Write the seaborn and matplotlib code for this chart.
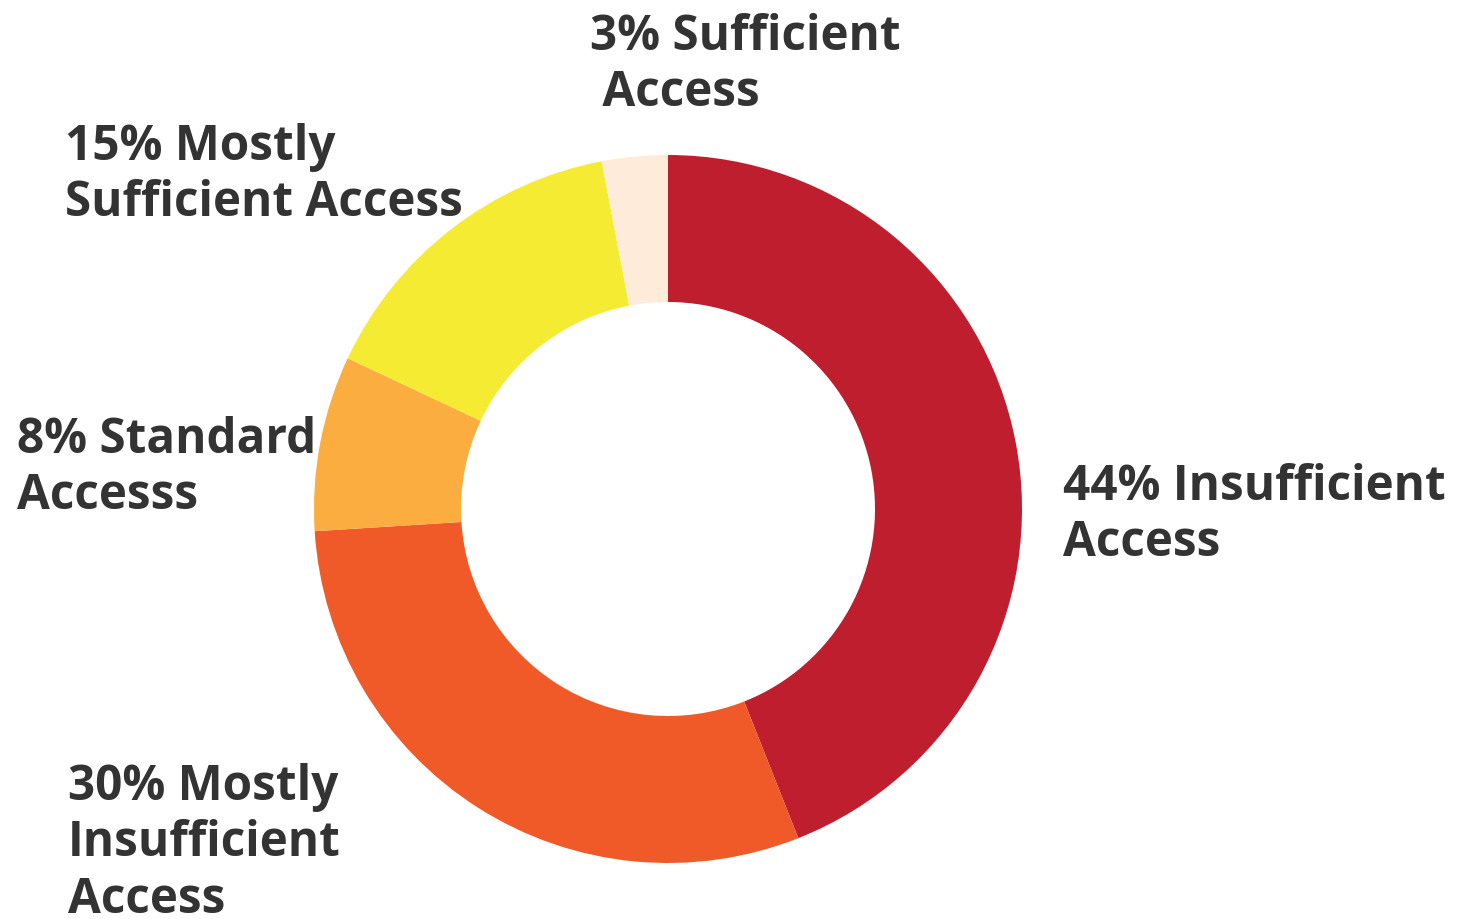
import matplotlib
matplotlib.use("Agg")
import matplotlib.pyplot as plt
import seaborn as sns

# data
labels = ["44% Insufficient\nAccess",
          "30% Mostly\nInsufficient\nAccess",
          "8% Standard\nAccesss",
          "15% Mostly\nSufficient Access",
          "3% Sufficient\n Access"]
shares = [44, 30, 8, 15, 3]
colors = ["#BE1E2D", "#F05A28", "#FBAD3F", "#F6EB33", "#FEEBD9"]

# where each label sits (pixel coords, top-left of the text block)
label_pos = [(1063, 463), (68, 763), (17, 416), (65, 123), (590, 13)]

sns.set_theme(style="white")
plt.rcParams['font.family'] = ['Open Sans', 'DejaVu Sans']

W, H = 1469, 920
fig = plt.figure(figsize=(W / 100, H / 100), dpi=100)
ax = fig.add_axes([0, 0, 1, 1])

ax.pie(shares, colors=sns.color_palette(colors), startangle=90, counterclock=False,
       radius=354, center=(668, H - 510),
       wedgeprops=dict(width=147, linewidth=0))

ax.set_xlim(0, W)
ax.set_ylim(0, H)
ax.set_aspect('equal')
ax.axis('off')

for txt, (x, y) in zip(labels, label_pos):
    ax.text(x, H - y, txt, ha='left', va='top', fontsize=34.3, fontweight='bold',
            color='#333333', linespacing=1.2)

fig.savefig("out.png", dpi=100, facecolor='white')
